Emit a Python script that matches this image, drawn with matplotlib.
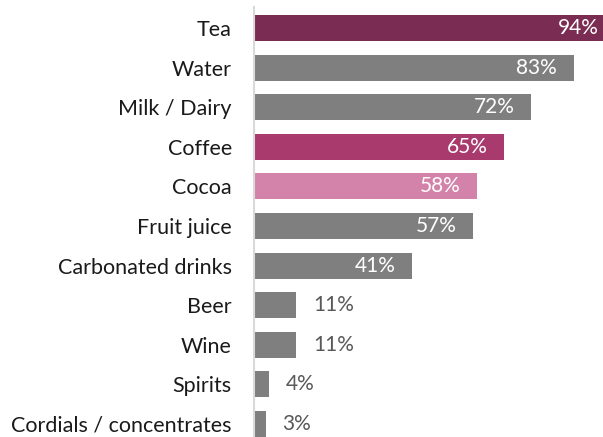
import matplotlib
matplotlib.use("Agg")
import matplotlib.pyplot as plt

# === DATA ===
drinks = ["Tea", "Water", "Milk / Dairy", "Coffee", "Cocoa", "Fruit juice",
          "Carbonated drinks", "Beer", "Wine", "Spirits", "Cordials / concentrates"]
shares = [94, 83, 72, 65, 58, 57, 41, 11, 11, 4, 3]

GREY = "#7f7f7f"
bar_colors = ["#7b2c52", GREY, GREY, "#a83a6e", "#d383aa", GREY, GREY,
              GREY, GREY, GREY, GREY]

plt.rcParams["font.family"] = ["Lato", "DejaVu Sans"]

fig = plt.figure(figsize=(6.03, 4.37), dpi=100)
ax = fig.add_axes([254 / 603, 0.0, 1 - 254 / 603, 1 - 7 / 437])

ypos = list(range(len(drinks)))
ax.barh(ypos, shares, height=0.66, color=bar_colors)

ax.set_xlim(0, 349 / 3.85)
ax.set_ylim(10 + 13 / 39.6, -21 / 39.6)

ax.set_yticks(ypos)
ax.set_yticklabels(drinks, fontsize=15.5, color="#1a1a1a")
ax.tick_params(axis="y", length=0, pad=16)
ax.set_xticks([])

for side in ["top", "right", "bottom"]:
    ax.spines[side].set_visible(False)
ax.spines["left"].set_color("#d9d9d9")
ax.spines["left"].set_linewidth(1.5)

# value labels: inside for large bars, outside for small ones
for y, v in zip(ypos, shares):
    if v >= 30:
        ax.annotate(f"{v}%", xy=(v, y), xytext=(-12, 0), textcoords="offset points",
                    ha="right", va="center", color="white", fontsize=15,
                    annotation_clip=False)
    else:
        ax.annotate(f"{v}%", xy=(v, y), xytext=(12, 0), textcoords="offset points",
                    ha="left", va="center", color="#595959", fontsize=15)

fig.savefig("out.png", dpi=100, facecolor="white")
